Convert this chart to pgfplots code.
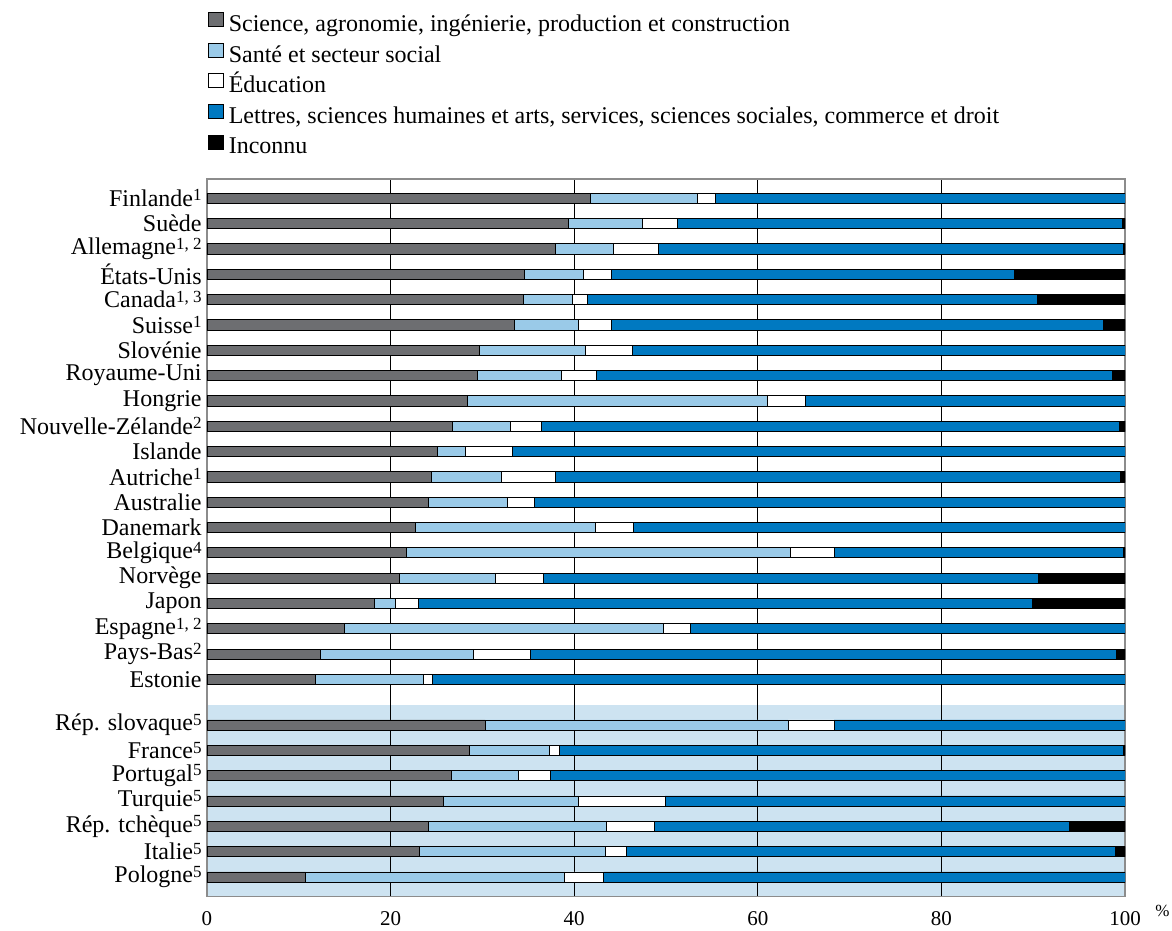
\documentclass[border=0pt]{standalone}
\usepackage{fontspec}
\setmainfont{Liberation Serif}
\usepackage{pgfplots}
\usepackage{pgfplotstable}
\pgfplotsset{compat=1.18}
\definecolor{cSci}{HTML}{6D6E71}
\definecolor{cSante}{HTML}{9ACAE8}
\definecolor{cLet}{HTML}{0079C1}
\definecolor{cBg}{HTML}{CDE3F1}
\newcommand\sups[1]{\raisebox{2.8pt}{\fontsize{8.5}{8.5}\selectfont #1}}

\pgfplotstableread{
y sci sante educ lettres inconnu
0 41.8 11.6 1.95 44.65 0
1 39.4 8.0 3.8 48.5 0.3
2 38.0 6.25 4.95 50.6 0.2
3 34.6 6.4 3.1 43.8 12.1
4 34.5 5.3 1.6 49.1 9.5
5 33.5 7.0 3.6 53.6 2.3
6 29.7 11.5 5.15 53.65 0
7 29.5 9.1 3.8 56.2 1.4
8 28.4 32.65 4.15 34.8 0
9 26.7 6.3 3.4 62.95 0.65
10 25.1 3.0 5.2 66.7 0
11 24.4 7.7 5.9 61.5 0.5
12 24.1 8.6 3.0 64.3 0
13 22.7 19.6 4.1 53.6 0
14 21.7 41.8 4.8 31.5 0.2
15 21.0 10.4 5.2 54.0 9.4
16 18.2 2.3 2.5 66.95 10.05
17 15.0 34.7 2.95 47.35 0
18 12.3 16.7 6.2 63.9 0.9
19 11.8 11.8 0.9 75.5 0
20.8 30.3 33.0 5.0 31.7 0
21.8 28.6 8.7 1.1 61.4 0.2
22.8 26.6 7.3 3.5 62.6 0
23.8 25.8 14.7 9.4 50.1 0
24.8 24.1 19.4 5.2 45.2 6.1
25.8 23.1 20.3 2.3 53.3 1.0
26.8 10.75 28.2 4.25 56.8 0
}\datatable

\pgfplotsset{
  legbox/.style={legend image code/.code={\draw[##1,line width=0.4pt] (0pt,0pt) rectangle (7.5pt,7pt);}},
}

\begin{document}
\begin{tikzpicture}
\useasboundingbox (0,0) rectangle (586pt,465.5pt);
\begin{axis}[
  at={(103.5pt,17.25pt)}, anchor=south west,
  scale only axis, width=459pt, height=358.75pt,
  axis background/.style={fill=white, path picture={
    \fill[cBg] (path picture bounding box.south west) rectangle ([yshift=95.73pt]path picture bounding box.south east);}},
  xbar stacked, bar width=0.4,
  xmin=0, xmax=100, ymin=-0.76, ymax=27.57, y dir=reverse,
  xtick={0,20,40,60,80,100},
  ytick={0,1,2,3,4,5,6,7,8,9,10,11,12,13,14,15,16,17,18,19,20.8,21.8,22.8,23.8,24.8,25.8,26.8},
  yticklabels={{Finlande\sups{1}},{Suède},{Allemagne\sups{1, 2}},{États-Unis},{Canada\sups{1, 3}},{Suisse\sups{1}},{Slovénie},{Royaume-Uni},{Hongrie},{Nouvelle-Zélande\sups{2}},{Islande},{Autriche\sups{1}},{Australie},{Danemark},{Belgique\sups{4}},{Norvège},{Japon},{Espagne\sups{1, 2}},{Pays-Bas\sups{2}},{Estonie},{Rép. slovaque\sups{5}},{France\sups{5}},{Portugal\sups{5}},{Turquie\sups{5}},{Rép. tchèque\sups{5}},{Italie\sups{5}},{Pologne\sups{5}}},
  xmajorgrids, grid style={black, line width=0.5pt},
  axis line style={black!45, line width=0.7pt},
  major tick length=0pt, tick style={draw=none},
  /pgf/number format/assume math mode=true,
  xticklabel style={font=\fontsize{10.5}{12}\selectfont, yshift=-4pt},
  yticklabel style={font=\fontsize{12}{13}\selectfont, inner sep=0pt, xshift=-2.5pt},
  xlabel={\%},
  xlabel style={at={(rel axis cs:1,0)}, anchor=west, xshift=15pt, yshift=-7.25pt, font=\fontsize{8.5}{8.5}\selectfont, inner sep=0pt},
  legend style={at={(rel axis cs:0,1)}, anchor=south west, xshift=0.5pt, yshift=9.5pt,
    draw=none, fill=none, inner sep=0pt, outer sep=0pt,
    font=\fontsize{12}{13}\selectfont, row sep=2.6pt, column sep=2.5pt,
    nodes={inner sep=0pt, text height=8pt, text depth=3pt}},
  legend cell align=left,
]
\addplot[fill=cSci, draw=black, line width=0.4pt, legbox] table[x=sci, y=y] {\datatable};
\addlegendentry{Science, agronomie, ingénierie, production et construction}
\addplot[fill=cSante, draw=black, line width=0.4pt, legbox] table[x=sante, y=y] {\datatable};
\addlegendentry{Santé et secteur social}
\addplot[fill=white, draw=black, line width=0.4pt, legbox] table[x=educ, y=y] {\datatable};
\addlegendentry{Éducation}
\addplot[fill=cLet, draw=black, line width=0.4pt, legbox] table[x=lettres, y=y] {\datatable};
\addlegendentry{Lettres, sciences humaines et arts, services, sciences sociales, commerce et droit}
\addplot[fill=black, draw=black, line width=0.4pt, legbox] table[x=inconnu, y=y] {\datatable};
\addlegendentry{Inconnu}
\end{axis}
\end{tikzpicture}
\end{document}
